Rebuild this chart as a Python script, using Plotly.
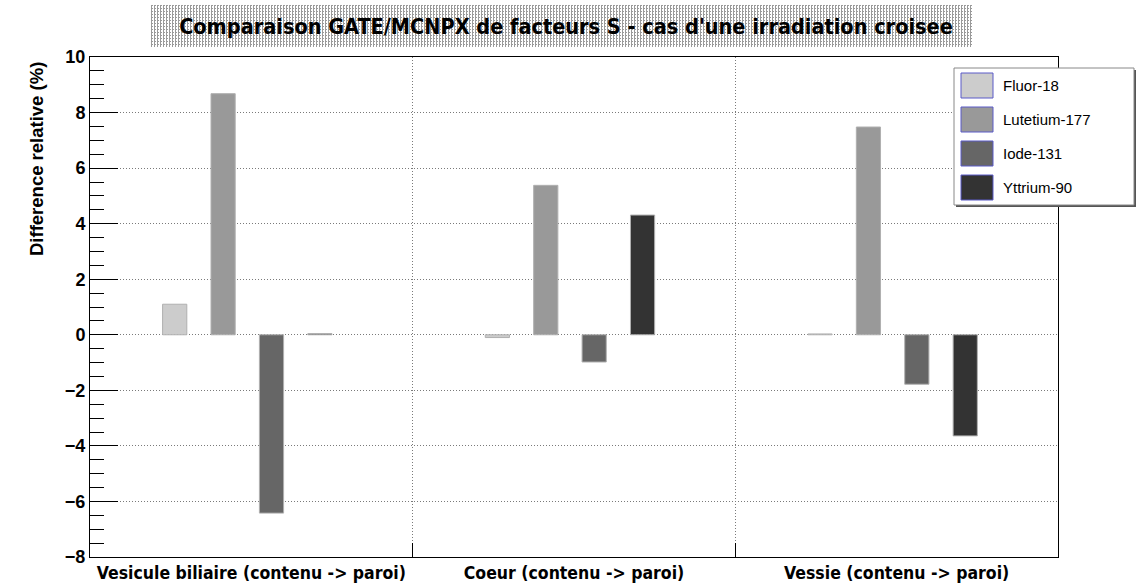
import base64
import plotly.graph_objects as go

categories = ["Vesicule biliaire (contenu -> paroi)", "Coeur (contenu -> paroi)", "Vessie (contenu -> paroi)"]
series_names = ["Fluor-18", "Lutetium-177", "Iode-131", "Yttrium-90"]
fluor18 = [1.10, -0.10, 0.03]
lutetium177 = [8.68, 5.38, 7.48]
iode131 = [-6.42, -0.98, -1.78]
yttrium90 = [0.04, 4.31, -3.64]
y_ticks = [-8, -6, -4, -2, 0, 2, 4, 6, 8, 10]

series_values = [fluor18, lutetium177, iode131, yttrium90]
colors = ["#cccccc", "#999999", "#666666", "#333333"]
offsets = [-0.275, -0.125, 0.025, 0.175]

fig = go.Figure()
for name, vals, col, off in zip(series_names, series_values, colors, offsets):
    fig.add_trace(go.Bar(
        x=categories, y=vals, name=name, showlegend=False,
        width=0.075, offset=off,
        marker=dict(color=col, line=dict(color="#b0b0b0", width=1)),
    ))

W, H = 1136, 584
PX0, PX1, PY0, PY1 = 90, 1058, 557, 57  # plot frame in pixels


def px(x):
    return (x - PX0) / (PX1 - PX0)


def py(y):
    return (PY0 - y) / (PY0 - PY1)


# hatched title background (fine dot pattern)
svg = ('<svg xmlns="http://www.w3.org/2000/svg" width="821" height="42">'
       '<defs><pattern id="p" width="3" height="3" patternUnits="userSpaceOnUse">'
       '<rect width="3" height="3" fill="#ffffff"/>'
       '<rect x="0" y="0" width="2" height="1" fill="#9a9a9a"/>'
       '<rect x="0" y="1" width="1" height="2" fill="#9a9a9a"/>'
       '</pattern></defs><rect width="821" height="42" fill="url(#p)"/></svg>')
hatch_src = "data:image/svg+xml;base64," + base64.b64encode(svg.encode()).decode()

shapes = []
annotations = []

# manual legend, drawn like the ROOT TLegend
shapes.append(dict(type="rect", xref="paper", yref="paper", layer="above",
                   x0=px(956), x1=px(1136), y0=py(207), y1=py(70),
                   fillcolor="#555555", line=dict(width=0)))
shapes.append(dict(type="rect", xref="paper", yref="paper", layer="above",
                   x0=px(954), x1=px(1134), y0=py(205), y1=py(68),
                   fillcolor="white", line=dict(color="#888888", width=1)))
for i, (name, col) in enumerate(zip(series_names, colors)):
    top = 73 + 34 * i
    shapes.append(dict(type="rect", xref="paper", yref="paper", layer="above",
                       x0=px(961), x1=px(993), y0=py(top + 25), y1=py(top),
                       fillcolor=col, line=dict(color="#5a5ac8", width=1)))
    annotations.append(dict(text=name, xref="paper", yref="paper", showarrow=False,
                            x=px(1001), xanchor="left", y=py(top + 12.5), yanchor="middle",
                            font=dict(family="Liberation Sans, Arial", size=15, color="black")))

# y axis title aligned towards the top end of the axis (ROOT style)
annotations.append(dict(text="Difference relative (%)", xref="paper", yref="paper", showarrow=False,
                        x=px(36), xanchor="center", y=py(60), yanchor="top", textangle=-90,
                        font=dict(family="Liberation Sans, Arial", size=18.5, color="black", weight="bold")))

fig.update_layout(
    width=W, height=H,
    barmode="overlay", showlegend=False,
    paper_bgcolor="white", plot_bgcolor="white",
    margin=dict(l=PX0, r=W - PX1, t=PY1, b=H - PY0, autoexpand=False),
    title=dict(
        text="Comparaison GATE/MCNPX de facteurs S - cas d'une irradiation croisee",
        x=566 / W, xanchor="center", y=1 - 26 / H, yanchor="middle", automargin=False,
        font=dict(family="DejaVu Sans Condensed, Liberation Sans, Arial", size=21.5, color="black", weight="bold"),
    ),
    images=[dict(source=hatch_src, xref="paper", yref="paper",
                 x=px(151), y=py(5), sizex=px(972) - px(151), sizey=py(5) - py(47),
                 xanchor="left", yanchor="top", sizing="stretch", layer="below")],
    shapes=shapes,
    annotations=annotations,
)

fig.update_xaxes(
    type="category", categoryorder="array", categoryarray=categories,
    range=[-0.5, 2.5], automargin=False,
    tickson="boundaries", ticks="inside", ticklen=14, tickcolor="black",
    showgrid=True, gridcolor="#7a7a7a", griddash="1px,2px", gridwidth=1,
    showline=True, linecolor="black", linewidth=1, mirror=True,
    tickfont=dict(family="DejaVu Sans Condensed, Liberation Sans, Arial", size=17.5, color="black", weight="bold"),
    zeroline=False,
)
fig.update_yaxes(
    range=[-8, 10], tickvals=y_ticks, ticktext=[("\u2212" + str(-v)) if v < 0 else str(v) for v in y_ticks],
    automargin=False,
    ticks="inside", ticklen=28, tickcolor="black",
    minor=dict(dtick=0.5, ticks="inside", ticklen=14, tickcolor="black", showgrid=False),
    showgrid=True, gridcolor="#7a7a7a", griddash="1px,2px", gridwidth=1,
    showline=True, linecolor="black", linewidth=1, mirror=True,
    zeroline=False,
    tickfont=dict(family="Liberation Sans, Arial", size=18, color="black", weight="bold"),
)

fig.write_html("out.html", config={"displayModeBar": False},
               post_script="document.body.style.margin='0';document.body.style.overflow='hidden';")
